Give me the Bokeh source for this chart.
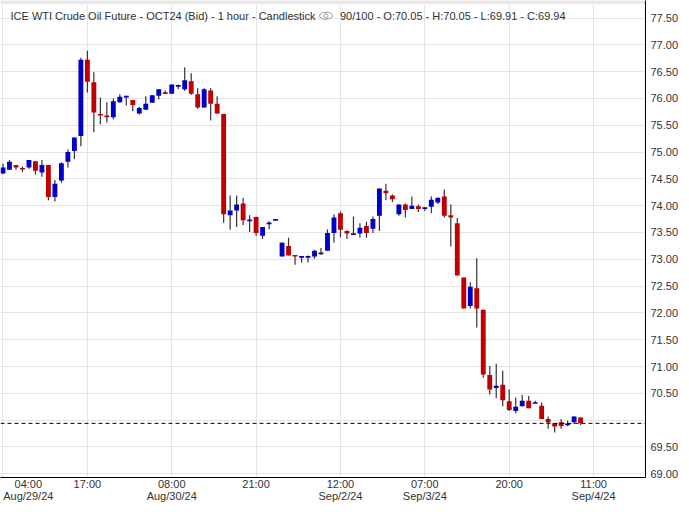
from bokeh.plotting import figure
from bokeh.models import Range1d, FixedTicker, Label, Span, ColumnDataSource, BoxAnnotation
from bokeh.embed import file_html
from bokeh.resources import INLINE

# ---- data: hourly OHLC bars (bar index = trading hour count from 04:00 Aug/29/24)
opens = [74.60, 74.67, 74.76, 74.70, 74.71, 74.83, 74.62, 74.76, 74.16, 74.47,
         74.82, 75.02, 75.30, 76.72, 76.30, 75.71, 75.68, 75.65, 75.93, 76.03,
         75.97, 75.72, 75.79, 75.92, 76.05, 76.11, 76.09, 76.22, 76.17, 76.32,
         76.08, 75.83, 76.15, 75.90, 75.71, 73.82, 73.91, 74.04, 73.71, 73.79,
         73.44, 73.66, 73.73, 73.05, 73.25, 73.08, 73.04, 73.04, 73.05, 73.11,
         73.16, 73.49, 73.86, 73.53, 73.46, 73.48, 73.62, 73.57, 73.81, 74.28,
         74.19, 73.84, 74.02, 73.94, 73.99, 73.94, 73.98, 74.06, 74.17, 73.82,
         73.67, 72.66, 72.13, 72.46, 72.06, 70.84, 70.60, 70.66, 70.35, 70.17,
         70.26, 70.36, 70.31, 70.27, 70.02, 69.94, 69.96, 69.91, 69.96, 70.05]
highs = [74.78, 74.85, 74.76, 74.73, 74.85, 74.83, 74.85, 74.76, 74.48, 74.81,
         75.05, 75.27, 76.76, 76.89, 76.49, 76.02, 75.93, 76.00, 76.08, 76.05,
         75.97, 75.84, 76.04, 76.06, 76.17, 76.15, 76.26, 76.26, 76.58, 76.47,
         76.19, 76.19, 76.19, 76.04, 75.71, 74.19, 74.19, 74.15, 73.82, 73.80,
         73.60, 73.71, 73.74, 73.32, 73.40, 73.08, 73.05, 73.07, 73.18, 73.21,
         73.56, 73.84, 73.89, 73.54, 73.80, 73.67, 73.70, 73.80, 74.32, 74.41,
         74.21, 74.02, 74.04, 74.17, 74.02, 73.97, 74.17, 74.15, 74.30, 74.02,
         73.77, 72.66, 72.57, 73.02, 72.06, 71.01, 71.05, 70.92, 70.57, 70.42,
         70.47, 70.45, 70.36, 70.33, 70.07, 69.94, 70.02, 69.99, 70.07, 70.05]
lows = [74.59, 74.67, 74.67, 74.63, 74.69, 74.58, 74.54, 74.10, 74.08, 74.43,
        74.71, 74.87, 75.11, 76.11, 75.37, 75.52, 75.55, 75.61, 75.92, 75.87,
        75.76, 75.70, 75.79, 75.92, 75.98, 76.09, 76.09, 76.17, 76.14, 76.07,
        75.81, 75.83, 75.59, 75.72, 73.68, 73.55, 73.60, 73.64, 73.51, 73.44,
        73.38, 73.56, 73.73, 73.05, 73.07, 72.90, 72.94, 72.94, 73.01, 73.08,
        73.16, 73.31, 73.41, 73.38, 73.46, 73.40, 73.40, 73.49, 73.53, 74.10,
        74.07, 73.81, 73.78, 73.94, 73.88, 73.90, 73.86, 74.03, 73.78, 73.24,
        72.70, 72.08, 72.08, 71.73, 70.79, 70.48, 70.41, 70.26, 70.17, 70.13,
        70.26, 70.22, 70.31, 70.02, 69.84, 69.77, 69.84, 69.89, 69.93, 69.91]
closes = [74.71, 74.82, 74.71, 74.68, 74.85, 74.65, 74.76, 74.16, 74.41, 74.79,
          75.00, 75.27, 76.72, 76.31, 75.74, 75.68, 75.65, 75.95, 76.03, 76.04,
          75.88, 75.82, 75.90, 76.06, 76.17, 76.09, 76.26, 76.25, 76.34, 76.09,
          75.83, 76.17, 75.90, 75.72, 73.84, 73.91, 74.02, 73.73, 73.74, 73.49,
          73.60, 73.68, 73.74, 73.31, 73.07, 73.05, 73.05, 73.05, 73.16, 73.11,
          73.49, 73.78, 73.55, 73.48, 73.48, 73.59, 73.49, 73.75, 74.32, 74.23,
          74.12, 74.02, 73.92, 74.00, 73.94, 73.97, 74.11, 74.15, 73.81, 73.78,
          72.70, 72.08, 72.49, 72.08, 70.85, 70.57, 70.64, 70.37, 70.19, 70.25,
          70.36, 70.22, 70.33, 70.02, 69.96, 69.88, 69.89, 69.93, 70.07, 69.94]

xtick_index = [0, 13, 26, 39, 52, 65, 78, 91]
xtick_labels = ["04:00\nAug/29/24", "17:00", "08:00\nAug/30/24", "21:00",
                "12:00\nSep/2/24", "07:00\nSep/3/24", "20:00", "11:00\nSep/4/24"]
ytick_values = [69.0, 69.5, 70.0, 70.5, 71.0, 71.5, 72.0, 72.5, 73.0,
                73.5, 74.0, 74.5, 75.0, 75.5, 76.0, 76.5, 77.0, 77.5]
last_price = 69.94
title_text = "ICE WTI Crude Oil Future - OCT24 (Bid) - 1 hour - Candlestick"
ohlc_text = "90/100 - O:70.05 - H:70.05 - L:69.91 - C:69.94"

# ---- styles
UP = "#0000c8"
DOWN = "#c00000"
FLAT = "#222222"
FONT = "Liberation Sans"
X0, X1 = -0.385, 99.0
Y0, Y1 = 68.93, 77.827
FRAME_H = 480

idx = list(range(len(opens)))
tops, bottoms, colors = [], [], []
for o, c in zip(opens, closes):
    t, b = max(o, c), min(o, c)
    if t - b < 0.03:
        m = (t + b) / 2
        t, b = m + 0.015, m - 0.015
    tops.append(t)
    bottoms.append(b)
    colors.append(UP if c > o else (DOWN if c < o else FLAT))

src = ColumnDataSource(dict(x=idx, o=opens, h=highs, l=lows, c=closes,
                            top=tops, bottom=bottoms, color=colors))

p = figure(width=681, height=504, output_backend="svg", toolbar_location=None,
           x_range=Range1d(X0, X1), y_range=Range1d(Y0, Y1),
           y_axis_location="right", min_border_left=0, min_border_top=0,
           min_border_right=35, min_border_bottom=24)
p.outline_line_color = None
p.background_fill_color = "white"
p.border_fill_color = "white"

# faint shade at the top edge
shades = ["#dcdcdc", "#e6e6e6", "#efefef", "#f7f7f7"]
step = 1.2 * (Y1 - Y0) / FRAME_H
for k, col in enumerate(shades):
    p.add_layout(BoxAnnotation(top=Y1 - k * step, bottom=Y1 - (k + 1) * step,
                               fill_color=col, fill_alpha=1.0, line_color=None,
                               level="underlay"))

# grid
grid_color = "#e4e4e4"
p.xgrid.ticker = FixedTicker(ticks=xtick_index)
p.ygrid.ticker = FixedTicker(ticks=ytick_values)
p.xgrid.grid_line_color = grid_color
p.ygrid.grid_line_color = grid_color

# candles
p.segment(x0="x", y0="l", x1="x", y1="h", source=src, line_color="#333333", line_width=1.2)
p.vbar(x="x", width=0.75, top="top", bottom="bottom", source=src,
       fill_color="color", line_color=None)

# last price line
p.add_layout(Span(location=last_price, dimension="width", line_color="black",
                  line_dash="4 3", line_width=1))

# x axis: first label is kept inside the view, shifted right
xa = p.xaxis[0]
shown_ticks = [3.9] + [float(t) for t in xtick_index[1:]]
xa.ticker = FixedTicker(ticks=shown_ticks)
xa.major_label_overrides = {t: lab for t, lab in zip(shown_ticks, xtick_labels)}
xa.major_tick_line_color = None
xa.minor_tick_line_color = None
xa.major_tick_out = 0
xa.major_tick_in = 0
xa.minor_tick_out = 0
xa.axis_line_color = "black"
xa.major_label_standoff = 0
xa.major_label_text_font = FONT
xa.major_label_text_font_size = "11px"
xa.major_label_text_color = "#333333"
xa.major_label_text_line_height = 1.0

ya = p.yaxis[0]
ya.ticker = FixedTicker(ticks=ytick_values)
ya.major_label_overrides = {v: ("" if abs(v - 70.0) < 1e-9 else f"{v:.2f}") for v in ytick_values}
ya.major_tick_line_color = None
ya.minor_tick_line_color = None
ya.major_tick_out = 0
ya.major_tick_in = 0
ya.minor_tick_out = 0
ya.axis_line_color = "black"
ya.major_label_standoff = 5
ya.major_label_text_font = FONT
ya.major_label_text_font_size = "11px"
ya.major_label_text_color = "#333333"

# header texts
p.add_layout(Label(x=1.154, y=77.536, text=title_text, text_font=FONT,
                   text_font_size="11px", text_color="#333333", text_baseline="middle"))
p.add_layout(Label(x=51.92, y=77.536, text=ohlc_text, text_font=FONT,
                   text_font_size="11px", text_color="#333333", text_baseline="middle"))
p.ellipse(x=[49.77], y=[77.542], width=13, height=7, width_units="screen",
          height_units="screen", fill_color=None, line_color="#9a9a9a", line_width=1)
p.scatter(x=[49.77], y=[77.542], size=4, fill_color=None, line_color="#9a9a9a", line_width=1)

# last price tag
p.add_layout(Label(x=100.08, y=last_price, text=f"{last_price:.2f}", text_font=FONT,
                   text_font_size="11px", text_color="white", text_font_style="bold",
                   text_baseline="middle", background_fill_color=DOWN, padding=1))

open("out.html", "w").write(file_html(p, INLINE))
